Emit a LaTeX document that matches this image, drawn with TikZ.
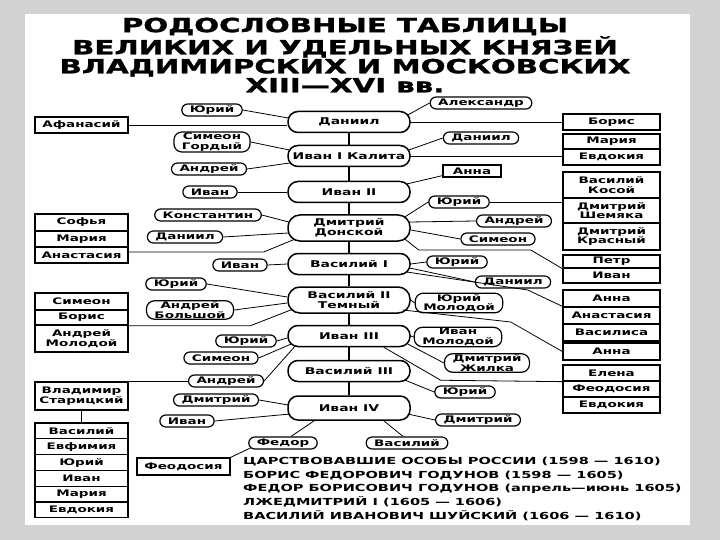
\documentclass[tikz,border=0pt]{standalone}
\usepackage{fontspec}
\newfontfamily\chartfont{DejaVu Sans}[FakeStretch=1.5]
\newfontfamily\headfont{DejaVu Sans}[FakeStretch=1.5, FakeBold=1.5]
\begin{document}
\begin{tikzpicture}[x=1pt, y=-1pt,
    % grand princes on the main line
    chief/.style={draw, line width=1.5pt, rounded corners=10pt, minimum width=122pt, minimum height=21pt, inner sep=1pt, align=center, font=\chartfont\bfseries\fontsize{9.3}{9.8}\selectfont},
    chieftwo/.style={chief, minimum height=26pt, rounded corners=12pt},
    % sons round each prince
    kid/.style={draw, line width=1.2pt, rounded corners=6pt, minimum height=12pt, inner xsep=8pt, inner ysep=1pt, align=center, font=\chartfont\bfseries\fontsize{9}{9.5}\selectfont},
    kidtwo/.style={kid, rounded corners=8pt},
    daughter/.style={kid, sharp corners, minimum width=58pt},
    % table cells
    rcell/.style={draw, line width=1.3pt, minimum width=97pt, inner sep=0pt, align=center, font=\chartfont\bfseries\fontsize{9}{9.5}\selectfont},
    lcell/.style={rcell, minimum width=93pt},
    trunk/.style={line width=2pt},
    link/.style={line width=0.8pt},
    ruler/.style={anchor=west, inner sep=0pt, font=\chartfont\bfseries\fontsize{9.7}{10}\selectfont}
]
\useasboundingbox (0,0) rectangle (720,540);
\fill[gray!35] (0,0) rectangle (720,540);
\fill[white] (25,14) rectangle (690,525);

% Title
\node[align=center, inner sep=0pt, font=\headfont\bfseries\fontsize{19.5}{19}\selectfont] (title) at (345,55)
    {РОДОСЛОВНЫЕ ТАБЛИЦЫ\\ВЕЛИКИХ И УДЕЛЬНЫХ КНЯЗЕЙ\\ВЛАДИМИРСКИХ И МОСКОВСКИХ\\XIII—XVI вв.};

% Main line
\node[chief] (danil) at (349,122) {Даниил};
\node[chief] (ivan1) at (349,156) {Иван I Калита};
\node[chief] (ivan2) at (349,192) {Иван II};
\node[chieftwo] (dmitry) at (349,228) {Дмитрий\\Донской};
\node[chief] (vasily1) at (349,264) {Василий I};
\node[chieftwo] (vasily2) at (349,300) {Василий II\\Темный};
\node[chief] (ivan3) at (349,336) {Иван III};
\node[chief] (vasily3) at (349,371) {Василий III};
\node[chief, minimum height=24pt] (ivan4) at (349,408) {Иван IV};

\foreach \a/\b in {danil/ivan1, ivan1/ivan2, ivan2/dmitry, dmitry/vasily1,
    vasily1/vasily2, vasily2/ivan3, ivan3/vasily3, vasily3/ivan4} {
    \draw[trunk] (\a.south) -- (\b.north);
}

% Sons, left side
\node[kid] (yuri1) at (212,110) {Юрий};
\node[kidtwo] (simeonG) at (212,142) {Симеон\\Гордый};
\node[kid] (andrey1) at (209,169) {Андрей};
\node[kid] (ivanL2) at (210,192) {Иван};
\node[kid] (konst) at (208,215) {Константин};
\node[kid] (danilL) at (185,237) {Даниил};
\node[kid] (ivanL3) at (240,265) {Иван};
\node[kid] (yuriL3) at (176,284) {Юрий};
\node[kidtwo] (andreyB) at (190,310) {Андрей\\Большой};
\node[kid] (yuriL4) at (246,341) {Юрий};
\node[kid] (simeonL) at (221,358) {Симеон};
\node[kid] (andreyL) at (226,381) {Андрей};
\node[kid] (dmitryL) at (216,400) {Дмитрий};
\node[kid] (ivanL4) at (187,421) {Иван};
\node[kid] (fedor) at (283,443) {Федор};
\node[kid] (vasilyK) at (407,443) {Василий};

% Sons, right side
\node[kid] (alex) at (481,103) {Александр};
\node[kid] (danilR) at (481,138) {Даниил};
\node[daughter] (anna) at (472,171) {Анна};
\node[kid] (yuriR) at (459,202) {Юрий};
\node[kid] (andreyR) at (514,221) {Андрей};
\node[kid] (simeonR) at (498,239) {Симеон};
\node[kid] (yuriR2) at (457,262) {Юрий};
\node[kid] (danilR2) at (513,282) {Даниил};
\node[kidtwo] (yuriM) at (459,303) {Юрий\\Молодой};
\node[kidtwo] (ivanM) at (458,337) {Иван\\Молодой};
\node[kidtwo] (dzhilka) at (487,363) {Дмитрий\\Жилка};
\node[kid] (yuriR3) at (465,392) {Юрий};
\node[kid] (dmitryR) at (478,420) {Дмитрий};

% Right tables
\node[rcell, minimum height=16pt] (boris) at (611.5,122) {Борис};
\node[rcell, minimum height=15pt] (maria1) at (611.5,141.5) {Мария};
\node[rcell, minimum height=16pt] (evdok1) at (611.5,157) {Евдокия};
\node[rcell, minimum height=26pt] (vkosoy) at (611.5,185) {Василий\\Косой};
\node[rcell, minimum height=25pt] (dshem) at (611.5,210.5) {Дмитрий\\Шемяка};
\node[rcell, minimum height=27pt] (dkras) at (611.5,236.5) {Дмитрий\\Красный};
\node[rcell, minimum height=13pt] (petr) at (611.5,261.5) {Петр};
\node[rcell, minimum height=15pt] (ivanR) at (611.5,275.5) {Иван};
\node[rcell, minimum height=17pt] (anna1) at (611.5,298.5) {Анна};
\node[rcell, minimum height=17pt] (anast1) at (611.5,315.5) {Анастасия};
\node[rcell, minimum height=17pt] (vasilisa) at (611.5,332.5) {Василиса};
\node[rcell, minimum height=17pt] (anna2) at (611.5,351.5) {Анна};
\node[rcell, minimum height=16pt] (elena) at (611.5,373) {Елена};
\node[rcell, minimum height=16pt] (feod1) at (611.5,389) {Феодосия};
\node[rcell, minimum height=16pt] (evdok2) at (611.5,405) {Евдокия};

% Left tables
\node[lcell, minimum height=16pt] (afan) at (81.5,125) {Афанасий};
\node[lcell, minimum height=17pt] (sofia) at (81.5,222.5) {Софья};
\node[lcell, minimum height=16pt] (mariaL) at (81.5,239) {Мария};
\node[lcell, minimum height=16pt] (anastL) at (81.5,255) {Анастасия};
\node[lcell, minimum height=17pt] (simeonT) at (81.5,301.5) {Симеон};
\node[lcell, minimum height=15pt] (borisL) at (81.5,317.5) {Борис};
\node[lcell, minimum height=27pt] (andreyMol) at (81.5,338.5) {Андрей\\Молодой};
\node[lcell, minimum height=28pt] (stariz) at (81.5,396) {Владимир\\Старицкий};
\foreach \who [count=\i] in {Василий, Евфимия, Юрий, Иван, Мария, Евдокия} {
    \node[lcell, minimum height=15.8pt] (grand\i) at (81.5,415.1+15.8*\i) {\who};
}
\node[lcell, minimum height=17pt] (feodK) at (183.5,466.5) {Феодосия};

% Links to the main line
\draw[link] (yuri1.east) -- ([xshift=1pt,yshift=4pt]danil.west);
\draw[link] (afan.east) -- (afan.east -| danil.west);
\draw[link] (danil.east) -- (boris.west);
\draw[link] (alex.west) -- ([xshift=-3pt,yshift=7pt]danil.east);
\draw[link] (simeonG.east) -- ([xshift=2pt,yshift=6pt]ivan1.west);
\draw[link] (andrey1.east) -- ([xshift=2.5pt,yshift=-7pt]ivan1.west);
\draw[link] (danilR.west) -- ([xshift=-2pt,yshift=6pt]ivan1.east);
\draw[link] (ivan1.east) -- (ivan1.east -| evdok1.west);
\draw[link] (ivanL2.east) -- (ivan2.west);
\draw[link] ([yshift=2pt]anna.south west) -- ([xshift=-4pt,yshift=8pt]ivan2.east);
\draw[link] (konst.east) -- ([xshift=1.5pt,yshift=6pt]dmitry.west);
\draw[link] (danilL.east) -- ([xshift=1pt,yshift=-5pt]dmitry.west);
\draw[link] ([xshift=8pt,yshift=-11pt]dmitry.west) -- ([xshift=135pt,yshift=3pt]anastL.east) -- ([yshift=3pt]anastL.east);
\draw[link] (yuriR.west) -- ([xshift=-6pt,yshift=11pt]dmitry.east);
\draw[link] (yuriR.east) -- (yuriR.east -| dshem.west);
\draw[link] (andreyR.west) -- ([xshift=-1.5pt,yshift=6pt]dmitry.east);
\draw[link] (simeonR.west) -- ([yshift=-2pt]dmitry.east);
\draw[link] ([xshift=-6pt,yshift=-11pt]dmitry.east) -- ++(14,11) -- ++(112,0) -- (petr.south west);
\draw[link] (ivanL3.east) -- (vasily1.west);
\draw[link] (yuriR2.west) -- (vasily1.east);
\draw[link] (danilR2.west) -- ([xshift=-1pt,yshift=-4pt]vasily1.east);
\draw[link] ([xshift=-4pt,yshift=-8pt]vasily1.east) -- ++(121,18) -- (anast1.north west);
\draw[link] (yuriL3.east) -- ([yshift=3pt]vasily2.west);
\draw[link] (andreyB.east) -- ([yshift=-3pt]vasily2.west);
\draw[link] ([xshift=6pt,yshift=-9pt]vasily2.west) -- ([xshift=122pt]borisL.south east) -- (borisL.south east);
\draw[link] (vasily2.east) -- (yuriM.west);
\draw[link] ([xshift=-8pt,yshift=-10pt]vasily2.east) -- ++(108,12) -- (anna2.west);
\draw[link] (yuriL4.east) -- ([yshift=-2pt]ivan3.west);
\draw[link] (simeonL.east) -- ([xshift=4pt,yshift=-8pt]ivan3.west);
\draw[link] (andreyL.east) -- ([xshift=8pt,yshift=-10pt]ivan3.west);
\draw[link] (andreyL.west) -- (andreyL.west -| stariz.west);
\draw[link] (ivan3.east) -- (ivanM.west);
\draw[link] (dzhilka.west) -- ([xshift=-3pt,yshift=-8pt]ivan3.east);
\draw[link] ([xshift=-27pt]ivan3.south east) -- ++(57,33) -- (elena.south west);
\draw[link] (yuriR3.west) -- ([xshift=-6pt,yshift=-9pt]vasily3.east);
\draw[link] (dmitryL.east) -- ([xshift=1pt,yshift=3pt]ivan4.west);
\draw[link] (ivanL4.east) -- ([xshift=3pt,yshift=-6pt]ivan4.west);
\draw[link] (dmitryR.west) -- ([xshift=-3pt,yshift=-6pt]ivan4.east);
\draw[link] ([xshift=8pt]fedor.north) -- ([xshift=27pt]ivan4.south west);
\draw[link] ([xshift=-4pt]vasilyK.north) -- ([xshift=-27pt]ivan4.south east);
\draw[link] ([xshift=3pt,yshift=2pt]fedor.south west) -- (feodK.north east);
\draw[link] (stariz.south) -- (grand1.north);

% Rulers of the Time of Troubles
\node[ruler] (reign0) at (243,462) {ЦАРСТВОВАВШИЕ ОСОБЫ РОССИИ (1598 — 1610)};
\node[ruler] (reign1) at (243,476) {БОРИС ФЕДОРОВИЧ ГОДУНОВ (1598 — 1605)};
\node[ruler] (reign2) at (243,489) {ФЕДОР БОРИСОВИЧ ГОДУНОВ (апрель—июнь 1605)};
\node[ruler] (reign3) at (243,502) {ЛЖЕДМИТРИЙ I (1605 — 1606)};
\node[ruler] (reign4) at (243,516) {ВАСИЛИЙ ИВАНОВИЧ ШУЙСКИЙ (1606 — 1610)};
\end{tikzpicture}
\end{document}
